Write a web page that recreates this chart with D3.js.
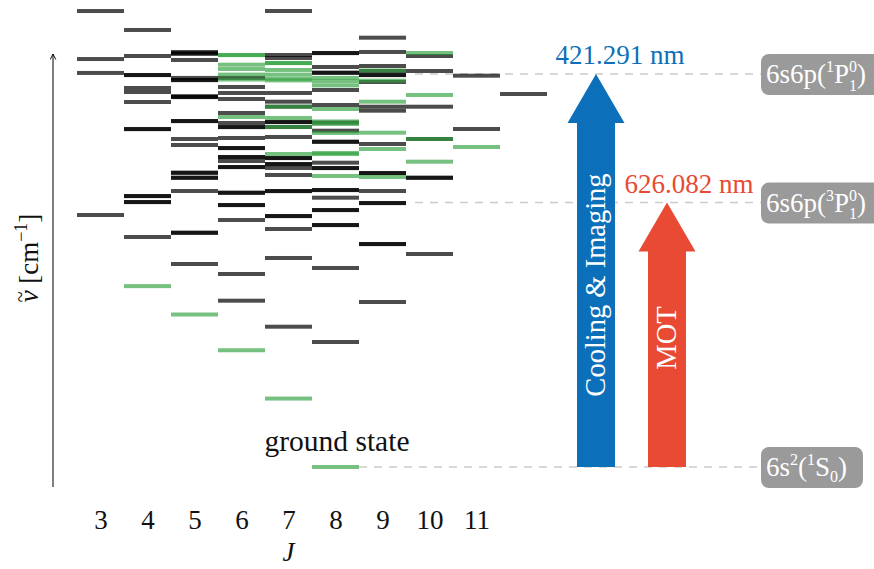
<!DOCTYPE html>
<html>
<head>
<meta charset="utf-8">
<script src="https://cdn.jsdelivr.net/npm/d3@7"></script>
<style>
  html, body { margin: 0; padding: 0; background: #fff; }
  svg text { font-family: "Liberation Serif", "DejaVu Serif", serif; }
</style>
</head>
<body>
<svg id="chart" width="874" height="569"></svg>
<script>
// ---------------- DATA ----------------
// Total angular momentum J of each column
const jValues = [3, 4, 5, 6, 7, 8, 9, 10, 11, 12];
const jTickLabels = ["3", "4", "5", "6", "7", "8", "9", "10", "11"];

// Odd-parity level energies (cm^-1), one list per J (same order as jValues)
const oddLevels = [
  [27540, 24640, 23800, 15220],
  [26395, 24824, 23677, 23670, 22892, 22650, 22046, 20415, 20405, 16368, 16360, 16006, 15998, 13892],
  [25066, 25000, 24950, 24583, 23500, 23375, 23365, 22400, 22348, 22340, 20898, 20890, 19811, 19449, 17776, 17768, 17474, 17466, 16670, 14152, 14144, 12261],
  [23500, 22952, 22590, 22227, 21382, 20778, 20536, 20528, 19872, 19268, 19260, 18724, 18716, 18482, 18120, 18112, 16568, 16560, 15825, 15817, 14919, 11657, 10045],
  [27542, 24885, 24704, 22590, 22064, 21762, 20838, 20830, 20536, 19932, 18664, 18656, 18300, 18290, 18060, 17637, 16670, 16662, 15160, 15152, 14375, 12624, 8474],
  [25006, 24998, 24160, 23816, 23808, 22771, 21865, 20800, 20313, 19648, 19640, 18380, 18060, 18052, 16731, 16723, 16266, 15523, 15515, 14617, 14609, 12020, 7550],
  [25930, 25066, 24220, 23918, 23677, 23669, 23254, 21762, 21521, 19509, 17758, 17750, 16670, 15946, 15938, 13469, 13461, 9966],
  [24824, 23918, 21762, 19811, 17474, 17466, 12865],
  [23635, 20415],
  [22529]
];

// Even-parity level energies (cm^-1), one list per J
const evenLevels = [
  [],
  [10925],
  [9211],
  [24885, 24875, 24300, 24040, 23700, 23400, 21140, 7051],
  [24402, 24394, 23980, 23700, 23450, 23350, 21762, 21080, 20536, 18905, 4134],
  [23500, 23300, 23050, 21623, 20870, 20717, 20174, 18966, 18900, 17576, 0],
  [23950, 23333, 22064, 20192, 19207, 17516],
  [25006, 22469, 19811, 18440],
  [19328],
  []
];

// Reference states (cm^-1)
const stateNames = ["6s²(¹S₀)", "6s6p(³P₁⁰)", "6s6p(¹P₁⁰)"];
const stateEnergies = [0, 15972.4, 23736.6];

// Laser transitions from the ground state
const transitionNames = ["Cooling & Imaging", "MOT"];
const transitionWavelengths = [421.291, 626.082]; // nm
const transitionLabels = ["421.291 nm", "626.082 nm"];

// ---------------- CHART ----------------
const svg = d3.select("#chart");

const x = d3.scaleLinear().domain([3, 11]).range([100.5, 476.5]);
const colW = x(4) - x(3);
const y = d3.scaleLinear().domain([0, 23736.6]).range([467, 74]);
const barH = 4;

const grayFill = "#000000", grayOp = 0.7;
const greenFill = "rgb(46,160,60)", greenOp = 0.65;
const blue = "#0b6fba", red = "#e84a33";
const labelGray = "#9a9a9a";

// dashed guide lines for reference states
const guideStart = [359, 415, 415];
const guideEnd = [762, 762, 762];
svg.append("g").selectAll("line")
  .data(stateEnergies)
  .join("line")
  .attr("x1", (d, i) => guideStart[i])
  .attr("x2", (d, i) => guideEnd[i])
  .attr("y1", d => y(d)).attr("y2", d => y(d))
  .attr("stroke", "#cccccc")
  .attr("stroke-width", 1.6)
  .attr("stroke-dasharray", "8,7");

// flatten levels
const levels = [];
jValues.forEach((j, i) => {
  oddLevels[i].forEach(e => levels.push({ j, e, parity: "odd" }));
  evenLevels[i].forEach(e => levels.push({ j, e, parity: "even" }));
});
levels.sort((a, b) => (a.parity === b.parity ? 0 : a.parity === "odd" ? -1 : 1));

svg.append("g").selectAll("rect")
  .data(levels)
  .join("rect")
  .attr("x", d => x(d.j) - colW / 2)
  .attr("width", colW)
  .attr("y", d => y(d.e) - barH / 2)
  .attr("height", barH)
  .attr("fill", d => d.parity === "odd" ? grayFill : greenFill)
  .attr("fill-opacity", d => d.parity === "odd" ? grayOp : greenOp);

// y axis line with arrow
svg.append("defs").append("marker")
  .attr("id", "arrowhead")
  .attr("viewBox", "0 0 10 10")
  .attr("refX", 9).attr("refY", 5)
  .attr("markerWidth", 7).attr("markerHeight", 7)
  .attr("orient", "auto")
  .append("path")
  .attr("d", "M1,1 L9,5 L1,9")
  .attr("fill", "none").attr("stroke", "#000").attr("stroke-width", 1.3);

svg.append("line")
  .attr("x1", 53).attr("x2", 53)
  .attr("y1", 487).attr("y2", 54)
  .attr("stroke", "#000").attr("stroke-width", 1)
  .attr("marker-end", "url(#arrowhead)");

const yLab = svg.append("text")
  .attr("transform", "translate(38,258) rotate(-90)")
  .attr("text-anchor", "middle")
  .attr("font-size", 27)
  .attr("fill", "#111");
yLab.append("tspan").attr("font-style", "italic").text("ν");
yLab.append("tspan").attr("dx", -12).attr("dy", -11).attr("font-size", 20).text("~");
yLab.append("tspan").attr("dx", 1).attr("dy", 11).text(" [cm");
yLab.append("tspan").attr("dy", -11).attr("font-size", 18).text("−1");
yLab.append("tspan").attr("dy", 11).text("]");

// x axis (tick labels only)
const xAxis = d3.axisBottom(x)
  .tickValues(jTickLabels.map(Number))
  .tickFormat((d, i) => jTickLabels[i])
  .tickSize(0).tickPadding(0);
const gx = svg.append("g").attr("transform", "translate(0,510)").call(xAxis);
gx.select(".domain").remove();
gx.selectAll("text")
  .attr("font-family", "Liberation Serif, serif")
  .attr("font-size", 27)
  .attr("fill", "#111")
  .attr("dy", "0.71em");

svg.append("text")
  .attr("x", x(7)).attr("y", 561)
  .attr("text-anchor", "middle")
  .attr("font-size", 27).attr("font-style", "italic")
  .attr("fill", "#111")
  .text("J");

svg.append("text")
  .attr("x", 337).attr("y", y(0) - 16)
  .attr("text-anchor", "middle")
  .attr("font-size", 29.5)
  .attr("fill", "#111")
  .text("ground state");

// transition arrows
const arrowCx = [596, 667];
const shaftW = [38, 38];
const headW = [57, 57];
const headH = [49, 49];
const colors = [blue, red];
const textCy = [285, 338];
const labelX = [620, 689];

transitionWavelengths.forEach((lam, i) => {
  const e = 1e7 / lam;
  const tip = y(e), base = y(0), cx = arrowCx[i];
  const hb = tip + headH[i];
  const pts = [
    [cx - shaftW[i] / 2, base], [cx - shaftW[i] / 2, hb], [cx - headW[i] / 2, hb],
    [cx, tip], [cx + headW[i] / 2, hb], [cx + shaftW[i] / 2, hb], [cx + shaftW[i] / 2, base]
  ];
  svg.append("path")
    .attr("d", d3.line()(pts) + "Z")
    .attr("fill", colors[i]);
  svg.append("text")
    .attr("transform", `translate(${cx + 9},${textCy[i]}) rotate(-90)`)
    .attr("text-anchor", "middle")
    .attr("font-size", 28.5)
    .attr("fill", "#fff")
    .text(transitionNames[i]);
  svg.append("text")
    .attr("x", labelX[i]).attr("y", tip - 10)
    .attr("text-anchor", "middle")
    .attr("font-size", 27)
    .attr("fill", colors[i])
    .text(transitionLabels[i]);
});

// state label boxes
const boxW = [102, 130, 130];
const sub = 16;
stateEnergies.forEach((e, i) => {
  const cy = y(e);
  svg.append("rect")
    .attr("x", 761).attr("y", cy - 20)
    .attr("width", boxW[i]).attr("height", 41)
    .attr("rx", 8).attr("ry", 8)
    .attr("fill", labelGray);
  const t = svg.append("text")
    .attr("x", 766).attr("y", cy + 9)
    .attr("font-size", 27)
    .attr("fill", "#fff");
  if (i === 0) {
    t.append("tspan").text("6s");
    t.append("tspan").attr("dy", -11).attr("font-size", sub).text("2");
    t.append("tspan").attr("dy", 11).text("(");
    t.append("tspan").attr("dy", -11).attr("font-size", sub).text("1");
    t.append("tspan").attr("dy", 11).text("S");
    t.append("tspan").attr("dy", 6).attr("font-size", sub).text("0");
    t.append("tspan").attr("dy", -6).text(")");
  } else {
    const mult = i === 1 ? "3" : "1";
    t.append("tspan").text("6s6p(");
    t.append("tspan").attr("dy", -11).attr("font-size", sub).text(mult);
    t.append("tspan").attr("dy", 11).text("P");
    t.append("tspan").attr("dy", -11).attr("font-size", sub).text("0");
    t.append("tspan").attr("dy", 18.5).attr("dx", -8).attr("font-size", sub).text("1");
    t.append("tspan").attr("dy", -7.5).text(")");
  }
});
</script>
</body>
</html>
